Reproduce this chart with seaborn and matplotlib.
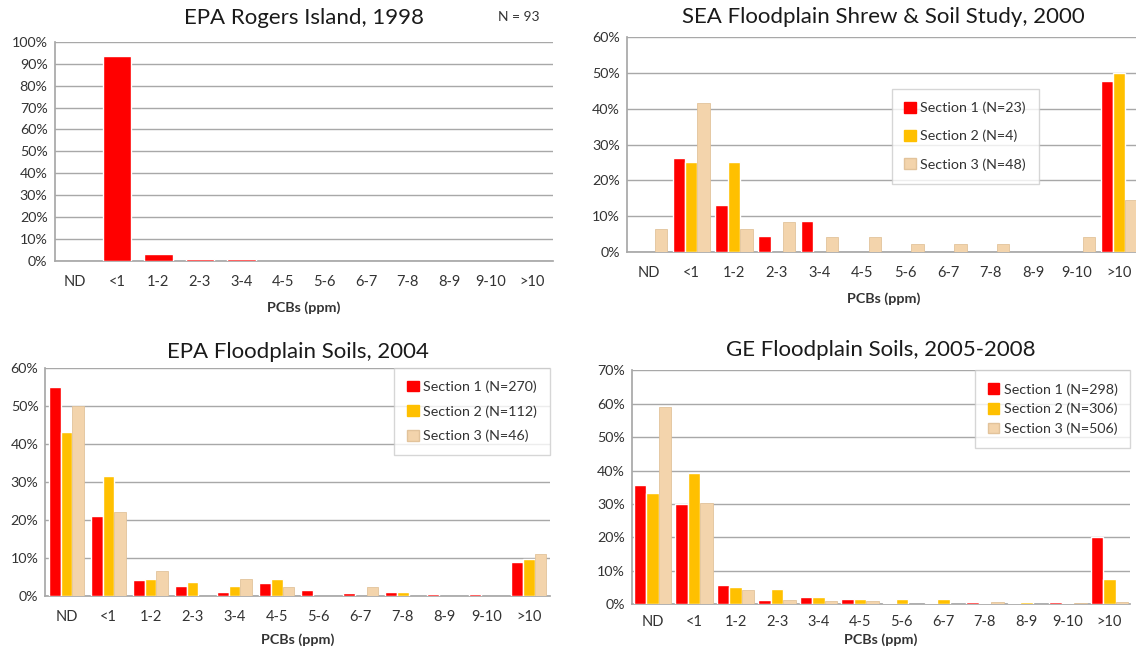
import numpy as np
import pandas as pd
import matplotlib
matplotlib.use("Agg")
import matplotlib.pyplot as plt
import seaborn as sns
from matplotlib.ticker import PercentFormatter

sns.set_theme(style="white")
plt.rcParams['font.family'] = ['Lato', 'DejaVu Sans']

# categories on x axis
bins = ["ND", "<1", "1-2", "2-3", "3-4", "4-5", "5-6", "6-7", "7-8", "8-9", "9-10", ">10"]

# EPA Rogers Island, 1998 (single series, %)
rogers = [0, 93.5, 3.2, 1.1, 1.1, 0, 0, 0, 0, 0, 0, 0]

# SEA Floodplain Shrew & Soil Study, 2000
sea_s1 = [0, 26.1, 13.0, 4.3, 8.7, 0, 0, 0, 0, 0, 0, 47.8]
sea_s2 = [0, 25.0, 25.0, 0, 0, 0, 0, 0, 0, 0, 0, 50.0]
sea_s3 = [6.3, 41.7, 6.3, 8.3, 4.2, 4.2, 2.1, 2.1, 2.1, 0, 4.2, 14.6]
sea_labels = ["Section 1 (N=23)", "Section 2 (N=4)", "Section 3 (N=48)"]

# EPA Floodplain Soils, 2004
epa_s1 = [55.0, 21.1, 4.1, 2.6, 1.1, 3.4, 1.5, 0.8, 1.1, 0.4, 0.4, 9.0]
epa_s2 = [43.0, 31.5, 4.5, 3.6, 2.7, 4.5, 0, 0, 0.9, 0, 0, 9.8]
epa_s3 = [50.0, 22.0, 6.5, 0, 4.3, 2.2, 0, 2.2, 0, 0, 0, 10.9]
epa_labels = ["Section 1 (N=270)", "Section 2 (N=112)", "Section 3 (N=46)"]

# GE Floodplain Soils, 2005-2008
ge_s1 = [35.6, 30.0, 5.7, 1.3, 2.3, 1.5, 0.3, 0.3, 0.7, 0.3, 0.7, 20.1]
ge_s2 = [33.3, 39.2, 5.2, 4.6, 2.3, 1.6, 1.6, 1.6, 0.3, 0.8, 0.3, 7.5]
ge_s3 = [58.9, 30.2, 4.2, 1.4, 1.0, 1.0, 0.2, 0.2, 0.8, 0.2, 0.4, 0.8]
ge_labels = ["Section 1 (N=298)", "Section 2 (N=306)", "Section 3 (N=506)"]

colors = ["#FF0000", "#FFC000", "#F3D4AC"]
grid_c = "#A8A8A8"
text_c = "#333333"


def long_df(series, labels):
    rows = []
    for vals, lab in zip(series, labels):
        for b, v in zip(bins, vals):
            rows.append({"bin": b, "pct": v, "section": lab})
    return pd.DataFrame(rows)


def style_axis(ax, ymax, step, title, title_pad):
    ax.set_ylim(0, ymax)
    ax.set_yticks(np.arange(0, ymax + 0.1, step))
    ax.yaxis.set_major_formatter(PercentFormatter(decimals=0))
    ax.grid(axis="y", color=grid_c, linewidth=1)
    ax.set_axisbelow(True)
    for s in ["top", "right"]:
        ax.spines[s].set_visible(False)
    for s in ["left", "bottom"]:
        ax.spines[s].set_color(grid_c)
        ax.spines[s].set_zorder(0.5)
    ax.tick_params(axis="y", labelsize=10.3, colors=text_c, length=0, pad=5)
    ax.tick_params(axis="x", labelsize=10.5, colors=text_c, length=0, pad=10)
    ax.set_xlabel("PCBs (ppm)", fontsize=10.3, fontweight="bold", color=text_c, labelpad=7)
    ax.set_ylabel("")
    ax.set_title(title, fontsize=16, color="#1a1a1a", pad=title_pad)


def legend(ax, labels, spacing, **kw):
    handles = [plt.Rectangle((0, 0), 1, 1, facecolor=c, edgecolor="#E2C39B" if i == 2 else c)
               for i, c in enumerate(colors)]
    lg = ax.legend(handles, labels, fontsize=10.3, frameon=True, fancybox=False,
                   handlelength=0.8, handleheight=0.8, handletextpad=0.3, labelspacing=spacing,
                   borderpad=0.9, borderaxespad=0, **kw)
    lg.get_frame().set_edgecolor("#cccccc")
    lg.get_frame().set_linewidth(1)
    for t in lg.get_texts():
        t.set_color(text_c)


fig = plt.figure(figsize=(11.36, 6.54), dpi=100)

# top left
ax1 = fig.add_axes([0.048, 0.601, 0.439, 0.335])
df1 = pd.DataFrame({"bin": bins, "pct": rogers})
sns.barplot(data=df1, x="bin", y="pct", color="#FF0000", saturation=1, width=0.69, ax=ax1)
style_axis(ax1, 100, 10, "EPA Rogers Island, 1998", 13)
ax1.xaxis.labelpad = 9
ax1.text(0.93, 1.115, "N = 93", transform=ax1.transAxes, fontsize=10, color=text_c,
         ha="center", va="center")

# top right
ax2 = fig.add_axes([0.552, 0.615, 0.452, 0.328])
df2 = long_df([sea_s1, sea_s2, sea_s3], sea_labels)
sns.barplot(data=df2, x="bin", y="pct", hue="section", palette=colors, saturation=1,
            width=0.87, gap=0, ax=ax2, legend=False)
style_axis(ax2, 60, 10, "SEA Floodplain Shrew & Soil Study, 2000", 10)
ax2.xaxis.labelpad = 9
legend(ax2, sea_labels, 1.1, loc="upper left", bbox_to_anchor=(0.515, 0.76))

# bottom left
ax3 = fig.add_axes([0.040, 0.089, 0.444, 0.349])
df3 = long_df([epa_s1, epa_s2, epa_s3], epa_labels)
sns.barplot(data=df3, x="bin", y="pct", hue="section", palette=colors, saturation=1,
            width=0.84, gap=0, ax=ax3, legend=False)
style_axis(ax3, 60, 10, "EPA Floodplain Soils, 2004", 7)
legend(ax3, epa_labels, 0.85, loc="upper right", bbox_to_anchor=(1.0, 1.0))

# bottom right
ax4 = fig.add_axes([0.556, 0.076, 0.439, 0.358])
df4 = long_df([ge_s1, ge_s2, ge_s3], ge_labels)
sns.barplot(data=df4, x="bin", y="pct", hue="section", palette=colors, saturation=1,
            width=0.9, gap=0, ax=ax4, legend=False)
style_axis(ax4, 70, 10, "GE Floodplain Soils, 2005-2008", 10)
ax4.tick_params(axis="x", pad=8)
ax4.xaxis.labelpad = 3
legend(ax4, ge_labels, 0.5, loc="upper right", bbox_to_anchor=(1.0, 1.0))

# light edge on tan bars, nothing on empty bars
for ax in [ax1, ax2, ax3, ax4]:
    for p in ax.patches:
        if p.get_height() == 0:
            p.set_visible(False)
        elif matplotlib.colors.to_hex(p.get_facecolor()).lower() == colors[2].lower():
            p.set_edgecolor("#E2C39B")
            p.set_linewidth(0.6)

fig.savefig("out.png", dpi=100, facecolor="white")
